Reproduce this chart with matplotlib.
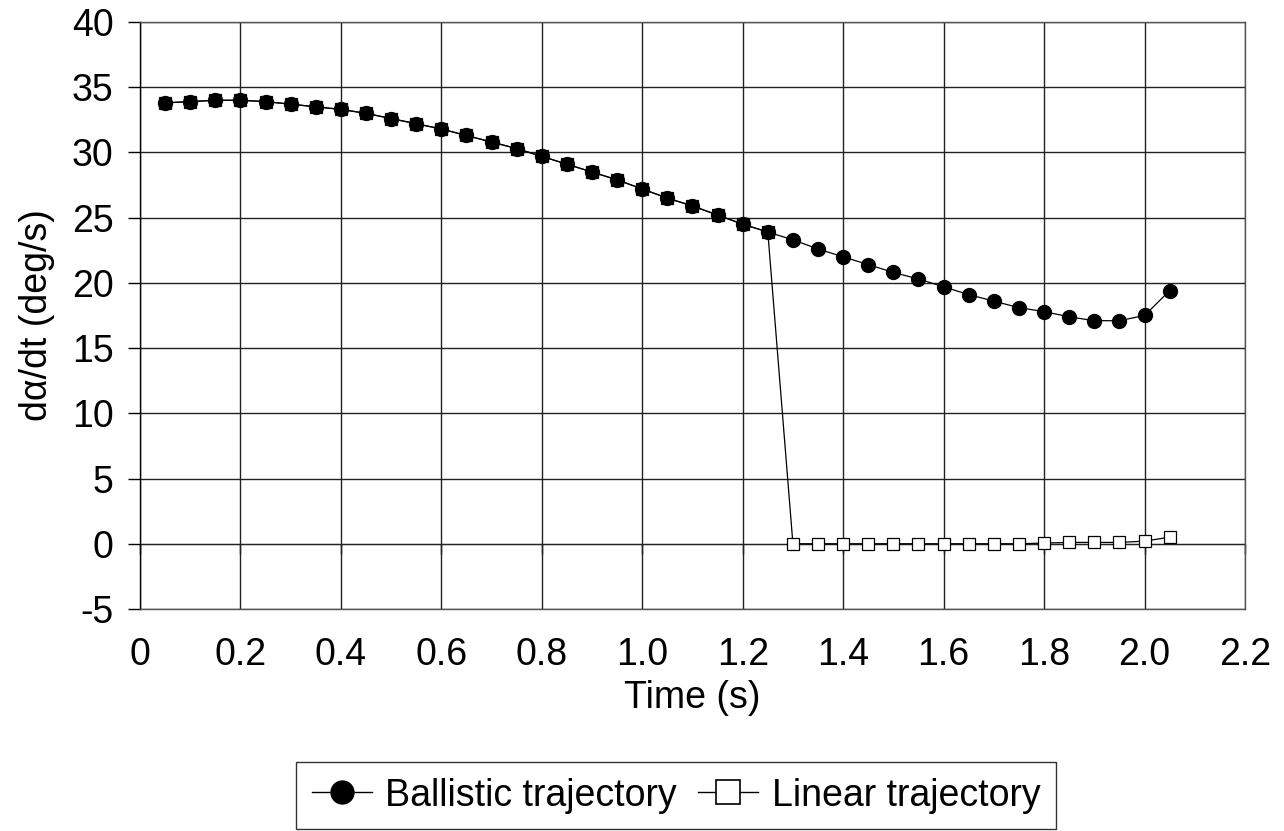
import matplotlib
matplotlib.use('Agg')
import matplotlib.pyplot as plt
from matplotlib.lines import Line2D
import numpy as np

plt.rcParams['font.family'] = ['Liberation Sans', 'DejaVu Sans']
plt.rcParams['axes.unicode_minus'] = False

# time samples (s)
time = [0.05, 0.10, 0.15, 0.20, 0.25, 0.30, 0.35, 0.40, 0.45, 0.50,
        0.55, 0.60, 0.65, 0.70, 0.75, 0.80, 0.85, 0.90, 0.95, 1.00,
        1.05, 1.10, 1.15, 1.20, 1.25, 1.30, 1.35, 1.40, 1.45, 1.50,
        1.55, 1.60, 1.65, 1.70, 1.75, 1.80, 1.85, 1.90, 1.95, 2.00, 2.05]

ballistic = [33.8, 33.9, 34.0, 34.0, 33.9, 33.7, 33.5, 33.3, 33.0, 32.6,
             32.2, 31.8, 31.3, 30.8, 30.3, 29.7, 29.1, 28.5, 27.9, 27.2,
             26.5, 25.9, 25.2, 24.5, 23.9, 23.3, 22.6, 22.0, 21.4, 20.8,
             20.3, 19.7, 19.1, 18.6, 18.1, 17.8, 17.4, 17.1, 17.1, 17.5, 19.4]

linear = [33.8, 33.9, 34.0, 34.0, 33.9, 33.7, 33.5, 33.3, 33.0, 32.6,
          32.2, 31.8, 31.3, 30.8, 30.3, 29.7, 29.1, 28.5, 27.9, 27.2,
          26.5, 25.9, 25.2, 24.5, 23.9, 0.0, 0.0, 0.0, 0.0, 0.0,
          0.0, 0.0, 0.0, 0.0, 0.0, 0.05, 0.1, 0.1, 0.1, 0.2, 0.5]

x_ticks = [0, 0.2, 0.4, 0.6, 0.8, 1.0, 1.2, 1.4, 1.6, 1.8, 2.0, 2.2]
x_ticklabels = ['0', '0.2', '0.4', '0.6', '0.8', '1.0', '1.2', '1.4',
                '1.6', '1.8', '2.0', '2.2']
y_ticks = list(range(-5, 41, 5))

FS = 27

fig = plt.figure(figsize=(12.84, 8.31), dpi=100)
ax = fig.add_axes([0.109, 0.2672, 0.8606, 0.7063])

ax.plot(time, linear, color='black', lw=0.9, marker='s', ms=9,
        mfc='white', mec='black', mew=0.9, zorder=3)
ax.plot(time, ballistic, color='black', lw=0.9, marker='o', ms=10,
        mfc='black', mec='black', zorder=4)

ax.set_xlim(0, 2.2)
ax.set_ylim(-5, 40)
ax.set_xticks(x_ticks)
ax.set_xticklabels(x_ticklabels)
ax.set_yticks(y_ticks)
ax.grid(True, color='#222222', lw=1.0)
ax.set_axisbelow(True)

for s in ax.spines.values():
    s.set_color('#555555')
    s.set_linewidth(1.0)
ax.spines['left'].set_color('black')

ax.tick_params(axis='x', length=0, labelsize=FS, pad=20)
ax.tick_params(axis='y', length=9, width=1, labelsize=FS, pad=10)

# the x axis line crosses at y=0 with its tick marks
sec = ax.secondary_xaxis(5 / 45)
sec.set_xticks(x_ticks)
sec.tick_params(axis='x', direction='out', length=7, width=1, labelbottom=False,
                labeltop=False)
sec.spines['bottom'].set_visible(True)
sec.spines['bottom'].set_color('black')

ax.set_xlabel('Time (s)', fontsize=FS, labelpad=5)
ax.set_ylabel('dα/dt (deg/s)', fontsize=FS, labelpad=12)

# legend symbols are drawn larger than the plot markers
h_bal = Line2D([], [], color='black', lw=1.0, marker='o', ms=16.5,
               mfc='black', mec='black')
h_lin = Line2D([], [], color='black', lw=1.0, marker='s', ms=17,
               mfc='white', mec='black', mew=1.2)
leg = fig.legend([h_bal, h_lin], ['Ballistic trajectory', 'Linear trajectory'],
                 loc='center', bbox_to_anchor=(0.5265, 0.0427), ncol=2,
                 fontsize=27, frameon=True, fancybox=False, handlelength=1.6,
                 handletextpad=0.37, columnspacing=0.56, borderpad=0.42,
                 borderaxespad=0)
leg.get_frame().set_edgecolor('black')
leg.get_frame().set_linewidth(1.0)

fig.savefig('out.png', dpi=100)
